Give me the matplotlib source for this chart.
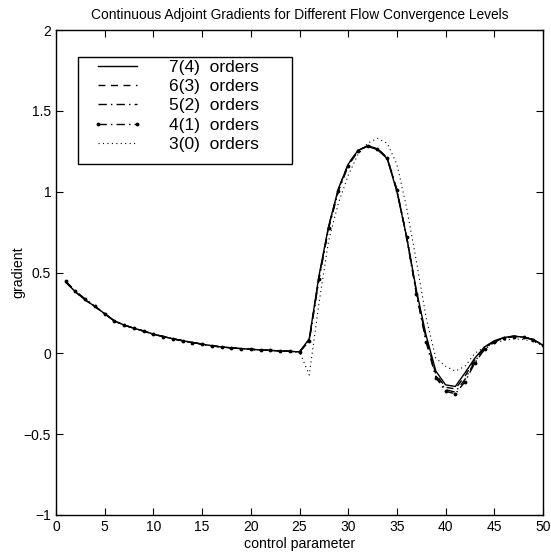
import matplotlib
matplotlib.use("Agg")
import matplotlib.pyplot as plt
from matplotlib.patches import Rectangle

plt.rcParams['font.family'] = ['Liberation Sans', 'DejaVu Sans']

x = list(range(1, 51))

# 7(4) orders
g7 = [0.44, 0.38, 0.33, 0.29, 0.245, 0.20, 0.175, 0.155, 0.138, 0.118,
      0.104, 0.09, 0.078, 0.067, 0.057, 0.047, 0.039, 0.034, 0.029, 0.025,
      0.021, 0.018, 0.015, 0.012, 0.009, 0.09, 0.48, 0.79, 1.02, 1.17,
      1.255, 1.28, 1.26, 1.205, 1.0, 0.72, 0.39, 0.11, -0.11, -0.195,
      -0.205, -0.12, -0.03, 0.04, 0.078, 0.098, 0.107, 0.10, 0.085, 0.05]
# 6(3) orders
g6 = [0.44, 0.38, 0.33, 0.29, 0.245, 0.20, 0.175, 0.155, 0.138, 0.118,
      0.104, 0.09, 0.078, 0.067, 0.057, 0.047, 0.039, 0.034, 0.029, 0.025,
      0.021, 0.018, 0.015, 0.012, 0.009, 0.085, 0.47, 0.785, 1.015, 1.17,
      1.255, 1.285, 1.265, 1.21, 1.01, 0.72, 0.38, 0.09, -0.13, -0.21,
      -0.22, -0.14, -0.04, 0.035, 0.075, 0.097, 0.106, 0.10, 0.085, 0.05]
# 5(2) orders
g5 = [0.445, 0.385, 0.335, 0.29, 0.245, 0.20, 0.175, 0.155, 0.138, 0.118,
      0.104, 0.09, 0.078, 0.067, 0.057, 0.047, 0.039, 0.034, 0.029, 0.025,
      0.021, 0.018, 0.015, 0.012, 0.009, 0.08, 0.465, 0.78, 1.01, 1.165,
      1.255, 1.285, 1.265, 1.21, 1.01, 0.72, 0.37, 0.08, -0.14, -0.225,
      -0.24, -0.16, -0.05, 0.03, 0.072, 0.095, 0.105, 0.10, 0.085, 0.05]
# 4(1) orders
g4 = [0.445, 0.385, 0.335, 0.29, 0.245, 0.20, 0.175, 0.155, 0.138, 0.118,
      0.104, 0.09, 0.078, 0.067, 0.057, 0.047, 0.039, 0.034, 0.029, 0.025,
      0.021, 0.018, 0.015, 0.012, 0.009, 0.075, 0.46, 0.775, 1.005, 1.16,
      1.25, 1.285, 1.265, 1.21, 1.01, 0.72, 0.37, 0.07, -0.15, -0.235,
      -0.25, -0.175, -0.06, 0.025, 0.07, 0.094, 0.104, 0.10, 0.085, 0.05]
# 3(0) orders
g3 = [0.44, 0.38, 0.33, 0.29, 0.245, 0.20, 0.175, 0.155, 0.138, 0.118,
      0.104, 0.09, 0.078, 0.067, 0.057, 0.047, 0.039, 0.034, 0.029, 0.025,
      0.021, 0.018, 0.015, 0.012, 0.01, -0.134, 0.31, 0.70, 0.93, 1.10,
      1.23, 1.30, 1.33, 1.30, 1.17, 0.90, 0.57, 0.22, -0.03, -0.08,
      -0.11, -0.08, 0.0, 0.04, 0.065, 0.08, 0.09, 0.085, 0.075, 0.045]

labels = ["7(4)  orders", "6(3)  orders", "5(2)  orders", "4(1)  orders", "3(0)  orders"]
yticks = [-1, -0.5, 0, 0.5, 1, 1.5, 2]
ytick_labels = ["\u22121", "\u22120.5", "0", "0.5", "1", "1.5", "2"]

W, H = 551, 554
fig = plt.figure(figsize=(W / 100, H / 100), dpi=100)
ax = fig.add_axes([56 / W, 1 - 515 / H, 487 / W, 485 / H])

lw = 1.0
ax.plot(x, g7, color="black", linestyle="-", linewidth=lw, label=labels[0])
ax.plot(x, g6, color="black", linestyle=(0, (5, 4)), linewidth=lw, label=labels[1])
ax.plot(x, g5, color="black", linestyle=(0, (6, 3, 1, 3)), linewidth=lw, label=labels[2])
ax.plot(x, g4, color="black", linestyle=(0, (6, 3, 1, 3)), linewidth=lw,
        marker=".", markersize=3.5, label=labels[3])
ax.plot(x, g3, color="black", linestyle=(0, (1, 3)), linewidth=0.8, label=labels[4])

ax.set_xlim(0, 50)
ax.set_ylim(-1, 2)
ax.set_xticks(range(0, 51, 5))
ax.set_yticks(yticks)
ax.set_yticklabels(ytick_labels)
ax.tick_params(direction="in", top=True, right=True, length=5, width=0.8, labelsize=10)
for s in ax.spines.values():
    s.set_linewidth(1.0)

ax.set_title("Continuous Adjoint Gradients for Different Flow Convergence Levels",
             fontsize=9.9, pad=8)
ax.set_xlabel("control parameter", fontsize=10.2, labelpad=2)
ax.set_ylabel("gradient", fontsize=10.2, labelpad=-1)

# legend entries without frame, frame drawn as a rectangle
leg = ax.legend(loc="upper left", bbox_to_anchor=((93 - 56) / 487, (515 - 60) / 485),
                borderaxespad=0, borderpad=0, fontsize=12.5, frameon=False,
                handlelength=2.85, handletextpad=1.5, labelspacing=0.23,
                numpoints=2)
fig.add_artist(Rectangle((77.5 / W, 1 - 164 / H), (292 - 77.5) / W, (164 - 57) / H,
                         transform=fig.transFigure, fill=False,
                         edgecolor="black", linewidth=1.0))

fig.savefig("out.png", dpi=100)
